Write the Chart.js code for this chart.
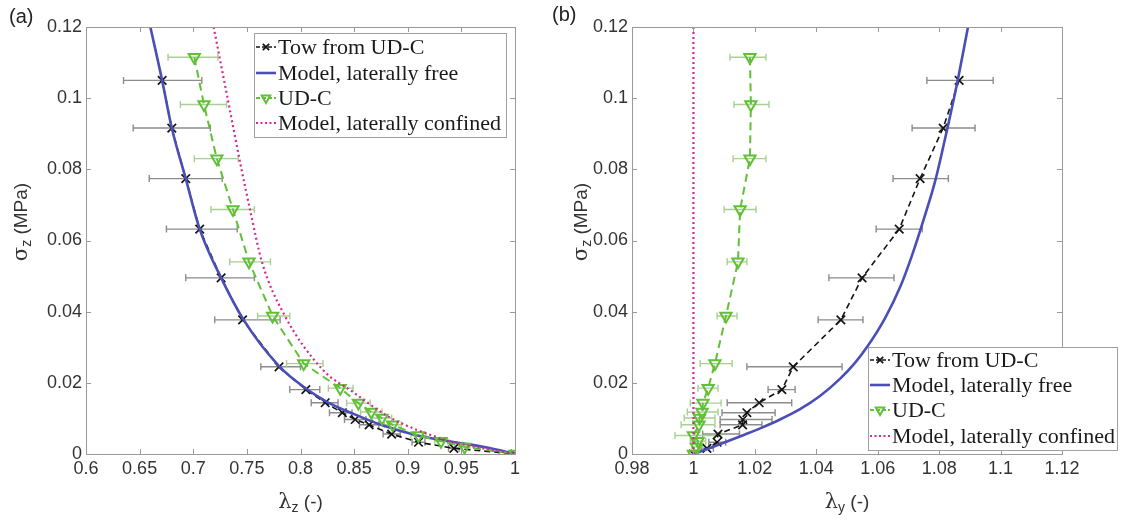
<!DOCTYPE html>
<html>
<head>
<meta charset="utf-8">
<script src="https://cdn.jsdelivr.net/npm/chart.js@4.4.1/dist/chart.umd.min.js"></script>
<style>
  html, body { margin: 0; padding: 0; background: #fff; }
  #wrap { position: relative; width: 1127px; height: 525px; overflow: hidden; }
  canvas { position: absolute; top: 0; }
  #ca { left: 0; }
  #cb { left: 560px; }
  .tag { position: absolute; font: 20px "Liberation Sans", Arial, sans-serif; color: #222; line-height: 20px; }
</style>
</head>
<body>
<div id="wrap">
  <canvas id="ca" width="560" height="525"></canvas>
  <canvas id="cb" width="567" height="525"></canvas>
  <div class="tag" style="left:9px;top:6px">(a)</div>
  <div class="tag" style="left:552px;top:4px">(b)</div>
</div>
<script>
// ---- measured data ----
// Tow extracted from UD-C: stress levels (MPa) and stretches with scatter ranges
const sigmaTow  = [0.105, 0.0916, 0.0774, 0.0632, 0.0495, 0.0377, 0.0245, 0.0181, 0.0144, 0.0116, 0.0097, 0.0082, 0.0056, 0.0033, 0.0016, 0];
const lamZTow   = [0.671, 0.680, 0.693, 0.706, 0.726, 0.746, 0.780, 0.805, 0.823, 0.839, 0.851, 0.864, 0.885, 0.910, 0.943, 1.000];
const lamZTowLo = [0.635, 0.644, 0.659, 0.675, 0.693, 0.720, 0.763, 0.790, 0.810, 0.827, 0.841, 0.855, 0.877, 0.904, 0.938, 1.000];
const lamZTowHi = [0.708, 0.716, 0.727, 0.741, 0.757, 0.781, 0.800, 0.818, 0.835, 0.848, 0.861, 0.873, 0.893, 0.916, 0.948, 1.000];
const lamYTow   = [1.0865, 1.0813, 1.0738, 1.0670, 1.0549, 1.0480, 1.0325, 1.0288, 1.0214, 1.0174, 1.0161, 1.0160, 1.0080, 1.0077, 1.0044, 1.000];
const lamYTowLo = [1.0760, 1.0712, 1.0650, 1.0595, 1.0441, 1.0406, 1.0174, 1.0243, 1.0110, 1.0093, 1.0087, 1.0087, 1.0030, 1.0050, 1.0025, 1.000];
const lamYTowHi = [1.0976, 1.0917, 1.0830, 1.0745, 1.0653, 1.0552, 1.0484, 1.0331, 1.0320, 1.0266, 1.0256, 1.0223, 1.0150, 1.0105, 1.0065, 1.000];

// UD-C stack
const sigmaUDC  = [0.1115, 0.0982, 0.0830, 0.0687, 0.0540, 0.0388, 0.0254, 0.0185, 0.0143, 0.0118, 0.0101, 0.0082, 0.0052, 0.0036, 0.0020, 0];
const lamZUDC   = [0.701, 0.710, 0.722, 0.737, 0.752, 0.774, 0.803, 0.837, 0.854, 0.866, 0.876, 0.886, 0.910, 0.931, 0.953, 1.000];
const lamZUDCLo = [0.6765, 0.688, 0.701, 0.7165, 0.734, 0.760, 0.787, 0.826, 0.843, 0.856, 0.867, 0.878, 0.903, 0.925, 0.948, 1.000];
const lamZUDCHi = [0.723, 0.731, 0.742, 0.757, 0.772, 0.790, 0.821, 0.849, 0.865, 0.876, 0.885, 0.894, 0.917, 0.937, 0.958, 1.000];
const lamYUDC   = [1.0184, 1.0187, 1.0184, 1.0152, 1.0145, 1.0106, 1.0070, 1.0048, 1.0031, 1.0028, 1.0020, 1.0018, 1.0000, 1.0015, 1.0010, 1.000];
const lamYUDCLo = [1.0119, 1.0132, 1.0129, 1.0100, 1.0110, 1.0077, 1.0022, 1.0015, 0.9990, 0.9980, 0.9970, 0.9960, 0.9940, 0.9990, 0.9995, 1.000];
const lamYUDCHi = [1.0236, 1.0246, 1.0236, 1.0204, 1.0174, 1.0142, 1.0126, 1.0080, 1.0090, 1.0080, 1.0070, 1.0070, 1.0090, 1.0040, 1.0030, 1.000];

// model curves
const freeZLam  = [0.660, 0.671, 0.680, 0.693, 0.706, 0.726, 0.747, 0.780, 0.805, 0.825, 0.850, 0.875, 0.909, 0.940, 0.974, 1.000];
const freeZSig  = [0.120, 0.105, 0.0916, 0.0774, 0.0632, 0.0495, 0.0377, 0.0247, 0.0184, 0.0146, 0.0112, 0.0082, 0.0052, 0.0035, 0.0018, 0];
const confZLam  = [0.719, 0.732, 0.745, 0.753, 0.764, 0.784, 0.821, 0.849, 0.882, 0.910, 0.942, 0.970, 1.000];
const confZSig  = [0.120, 0.100, 0.080, 0.0686, 0.054, 0.0396, 0.0236, 0.0174, 0.0105, 0.0066, 0.0034, 0.0016, 0];
const freeYLam  = [1.0000, 1.0054, 1.0109, 1.0168, 1.0217, 1.0282, 1.0347, 1.0412, 1.0477, 1.0526, 1.0568, 1.0624, 1.0673, 1.0712, 1.0751, 1.0787, 1.0819, 1.0858, 1.0894];
const freeYSig  = [0, 0.0017, 0.0035, 0.0055, 0.0072, 0.0097, 0.0126, 0.0163, 0.0211, 0.0256, 0.0304, 0.0382, 0.0469, 0.0559, 0.0663, 0.0767, 0.0885, 0.1040, 0.1200];
const confYLam  = [1.000, 1.000];
const confYSig  = [0, 0.120];

// axis ticks
const yTicks      = [0, 0.02, 0.04, 0.06, 0.08, 0.10, 0.12];
const yTickLabels = ['0', '0.02', '0.04', '0.06', '0.08', '0.1', '0.12'];
const zTicks      = [0.6, 0.65, 0.7, 0.75, 0.8, 0.85, 0.9, 0.95, 1];
const zTickLabels = ['0.6', '0.65', '0.7', '0.75', '0.8', '0.85', '0.9', '0.95', '1'];
const yyTicks      = [0.98, 1, 1.02, 1.04, 1.06, 1.08, 1.1, 1.12];
const yyTickLabels = ['0.98', '1', '1.02', '1.04', '1.06', '1.08', '1.1', '1.12'];

const seriesNames = ['Tow from UD-C', 'Model, laterally free', 'UD-C', 'Model, laterally confined'];

// ---- styling ----
const C_TOW = '#141414', C_FREE = '#4a4eb6', C_UDC = '#62bf38', C_CONF = '#d42a92';
const C_ERR_TOW = '#8c8c8c', C_ERR_UDC = '#a9cf95';
const C_AXIS = '#9a9a9a', C_TEXT = '#333';
const TICK_FONT = { family: '"Liberation Sans", Arial, sans-serif', size: 18 };

const pairs = (xs, ys) => xs.map((x, i) => ({ x, y: ys[i] }));

function datasets(lamTow, lamUDC, freeL, freeS, confL, confS, smoothConf) {
  return [
    { label: seriesNames[0], data: pairs(lamTow, sigmaTow), showLine: true,
      borderColor: C_TOW, borderWidth: 1.6, borderDash: [6, 4], tension: 0,
      pointStyle: 'crossRot', pointRadius: 6, pointBorderWidth: 1.7,
      pointBorderColor: C_TOW, pointBackgroundColor: C_TOW, order: 4 },
    { label: seriesNames[1], data: pairs(freeL, freeS), showLine: true,
      borderColor: C_FREE, borderWidth: 2.6, pointRadius: 0,
      cubicInterpolationMode: 'monotone', order: 3 },
    { label: seriesNames[2], data: pairs(lamUDC, sigmaUDC), showLine: true,
      borderColor: C_UDC, borderWidth: 2, borderDash: [8, 5], tension: 0,
      pointStyle: 'triangle', rotation: 180, pointRadius: 6.5, pointBorderWidth: 2,
      pointBorderColor: C_UDC, pointBackgroundColor: 'rgba(255,255,255,0)', order: 2 },
    { label: seriesNames[3], data: pairs(confL, confS), showLine: true,
      borderColor: C_CONF, borderWidth: 2.2, borderDash: [2, 3], pointRadius: 0,
      cubicInterpolationMode: smoothConf ? 'monotone' : 'default', tension: 0, order: 1 }
  ];
}

// horizontal error bars with end caps, drawn beneath the series
const errorBars = {
  id: 'errorBars',
  beforeDatasetsDraw(chart, args, opts) {
    const { ctx } = chart, xs = chart.scales.x, ys = chart.scales.y;
    (opts.sets || []).forEach(s => {
      ctx.save();
      ctx.strokeStyle = s.color;
      ctx.lineWidth = 1.4;
      s.y.forEach((v, i) => {
        const lo = s.lo[i], hi = s.hi[i];
        if (hi - lo <= 0) return;
        const py = ys.getPixelForValue(v), pl = xs.getPixelForValue(lo), ph = xs.getPixelForValue(hi);
        ctx.beginPath();
        ctx.moveTo(pl, py); ctx.lineTo(ph, py);
        ctx.moveTo(pl, py - 3.5); ctx.lineTo(pl, py + 3.5);
        ctx.moveTo(ph, py - 3.5); ctx.lineTo(ph, py + 3.5);
        ctx.stroke();
      });
      ctx.restore();
    });
  }
};

// text with a subscript: [main, sub, rest]
function drawSubText(ctx, cx, cy, parts, angle) {
  const fonts = ['21px "DejaVu Serif", serif', '14px "Liberation Sans", Arial, sans-serif', '19px "Liberation Sans", Arial, sans-serif'];
  const shifts = [0, 5, 0];
  const widths = parts.map((p, i) => { ctx.font = fonts[i]; return ctx.measureText(p).width; });
  const total = widths.reduce((a, b) => a + b, 0);
  ctx.save();
  ctx.translate(cx, cy);
  ctx.rotate(angle);
  ctx.fillStyle = C_TEXT;
  ctx.textBaseline = 'middle';
  ctx.textAlign = 'left';
  let x = -total / 2;
  parts.forEach((p, i) => {
    ctx.font = fonts[i];
    ctx.fillText(p, x, shifts[i]);
    x += widths[i];
  });
  ctx.restore();
}

// box, inward tick marks, axis titles and legend
const frame = {
  id: 'frame',
  afterDatasetsDraw(chart, args, opts) {
    const { ctx, chartArea: a } = chart, xs = chart.scales.x, ys = chart.scales.y;
    ctx.save();
    ctx.strokeStyle = C_AXIS;
    ctx.lineWidth = 1;
    ctx.strokeRect(Math.round(a.left) + 0.5, Math.round(a.top) + 0.5,
                   Math.round(a.right - a.left), Math.round(a.bottom - a.top));
    const L = 5;
    ctx.beginPath();
    xs.ticks.forEach(t => {
      const px = Math.round(xs.getPixelForValue(t.value)) + 0.5;
      ctx.moveTo(px, a.bottom); ctx.lineTo(px, a.bottom - L);
      ctx.moveTo(px, a.top); ctx.lineTo(px, a.top + L);
    });
    ys.ticks.forEach(t => {
      const py = Math.round(ys.getPixelForValue(t.value)) + 0.5;
      ctx.moveTo(a.left, py); ctx.lineTo(a.left + L, py);
      ctx.moveTo(a.right, py); ctx.lineTo(a.right - L, py);
    });
    ctx.stroke();
    ctx.restore();

    drawSubText(ctx, (a.left + a.right) / 2, opts.xTitleY, opts.xTitle, 0);
    drawSubText(ctx, opts.yTitleX, opts.yTitleCY, opts.yTitle, -Math.PI / 2);

    // legend
    const lg = opts.legend;
    ctx.save();
    ctx.fillStyle = '#fff';
    ctx.fillRect(lg.x0, lg.y0, lg.x1 - lg.x0, lg.y1 - lg.y0);
    ctx.strokeStyle = '#a0a0a0';
    ctx.lineWidth = 1;
    ctx.strokeRect(lg.x0 + 0.5, lg.y0 + 0.5, lg.x1 - lg.x0, lg.y1 - lg.y0);
    chart.data.datasets.forEach((d, i) => {
      const y = lg.rows[i];
      const sx0 = lg.x0 + 2, sx1 = lg.x0 + 22;
      ctx.save();
      ctx.strokeStyle = d.borderColor;
      ctx.lineWidth = d.borderWidth;
      ctx.setLineDash(d.borderDash ? (i === 3 ? [2, 2.5] : [4, 2]) : []);
      ctx.beginPath(); ctx.moveTo(sx0, y); ctx.lineTo(sx1, y); ctx.stroke();
      ctx.setLineDash([]);
      if (d.pointRadius > 0) {
        ctx.strokeStyle = d.pointBorderColor;
        ctx.fillStyle = d.pointBackgroundColor;
        ctx.lineWidth = d.pointBorderWidth;
        Chart.helpers.drawPoint(ctx, {
          pointStyle: d.pointStyle, rotation: d.rotation || 0,
          radius: d.pointRadius * 0.75, borderWidth: d.pointBorderWidth
        }, (sx0 + sx1) / 2, y);
      }
      ctx.restore();
      ctx.fillStyle = '#1a1a1a';
      ctx.font = '22px "Liberation Serif", "Times New Roman", serif';
      ctx.textBaseline = 'middle';
      ctx.textAlign = 'left';
      ctx.fillText(d.label, lg.x0 + 24, y + 1);
    });
    ctx.restore();
  }
};

function axisCfg(min, max, ticks, labels, pad, fitKey, fitVal) {
  return {
    type: 'linear', min, max,
    afterBuildTicks: s => { s.ticks = ticks.map(v => ({ value: v })); },
    afterFit: s => { s[fitKey] = fitVal; },
    ticks: { callback: (v, i) => labels[i], font: TICK_FONT, color: C_TEXT,
             padding: pad, autoSkip: false, maxRotation: 0, minRotation: 0 },
    grid: { display: false, drawTicks: false },
    border: { display: false }
  };
}

function build(id, cfg) {
  return new Chart(document.getElementById(id), {
    type: 'scatter',
    data: { datasets: cfg.datasets },
    options: {
      responsive: false, animation: false, devicePixelRatio: 1,
      layout: { padding: { left: 0, top: 27, right: cfg.padRight, bottom: 0 } },
      scales: {
        x: axisCfg(cfg.xMin, cfg.xMax, cfg.xTicks, cfg.xLabels, 4, 'height', 71),
        y: axisCfg(0, 0.12, yTicks, yTickLabels, 4, 'width', cfg.yWidth)
      },
      plugins: {
        legend: { display: false }, tooltip: { enabled: false },
        errorBars: { sets: cfg.errors },
        frame: cfg.frame
      }
    },
    plugins: [errorBars, frame]
  });
}

build('ca', {
  datasets: datasets(lamZTow, lamZUDC, freeZLam, freeZSig, confZLam, confZSig, true),
  xMin: 0.6, xMax: 1, xTicks: zTicks, xLabels: zTickLabels,
  padRight: 45, yWidth: 86,
  errors: [
    { y: sigmaTow, lo: lamZTowLo, hi: lamZTowHi, color: C_ERR_TOW },
    { y: sigmaUDC, lo: lamZUDCLo, hi: lamZUDCHi, color: C_ERR_UDC }
  ],
  frame: {
    xTitle: ['λ', 'z', ' (-)'], xTitleY: 503,
    yTitle: ['σ', 'z', ' (MPa)'], yTitleX: 22, yTitleCY: 222,
    legend: { x0: 254, y0: 33, x1: 506, y1: 137, rows: [47, 73, 98, 123] }
  }
});

build('cb', {
  datasets: datasets(lamYTow, lamYUDC, freeYLam, freeYSig, confYLam, confYSig, false),
  xMin: 0.98, xMax: 1.12, xTicks: yyTicks, xLabels: yyTickLabels,
  padRight: 65, yWidth: 72,
  errors: [
    { y: sigmaTow, lo: lamYTowLo, hi: lamYTowHi, color: C_ERR_TOW },
    { y: sigmaUDC, lo: lamYUDCLo, hi: lamYUDCHi, color: C_ERR_UDC }
  ],
  frame: {
    xTitle: ['λ', 'y', ' (-)'], xTitleY: 503,
    yTitle: ['σ', 'z', ' (MPa)'], yTitleX: 22, yTitleCY: 222,
    legend: { x0: 308, y0: 347, x1: 557, y1: 450, rows: [360, 385, 410, 436] }
  }
});
</script>
</body>
</html>
